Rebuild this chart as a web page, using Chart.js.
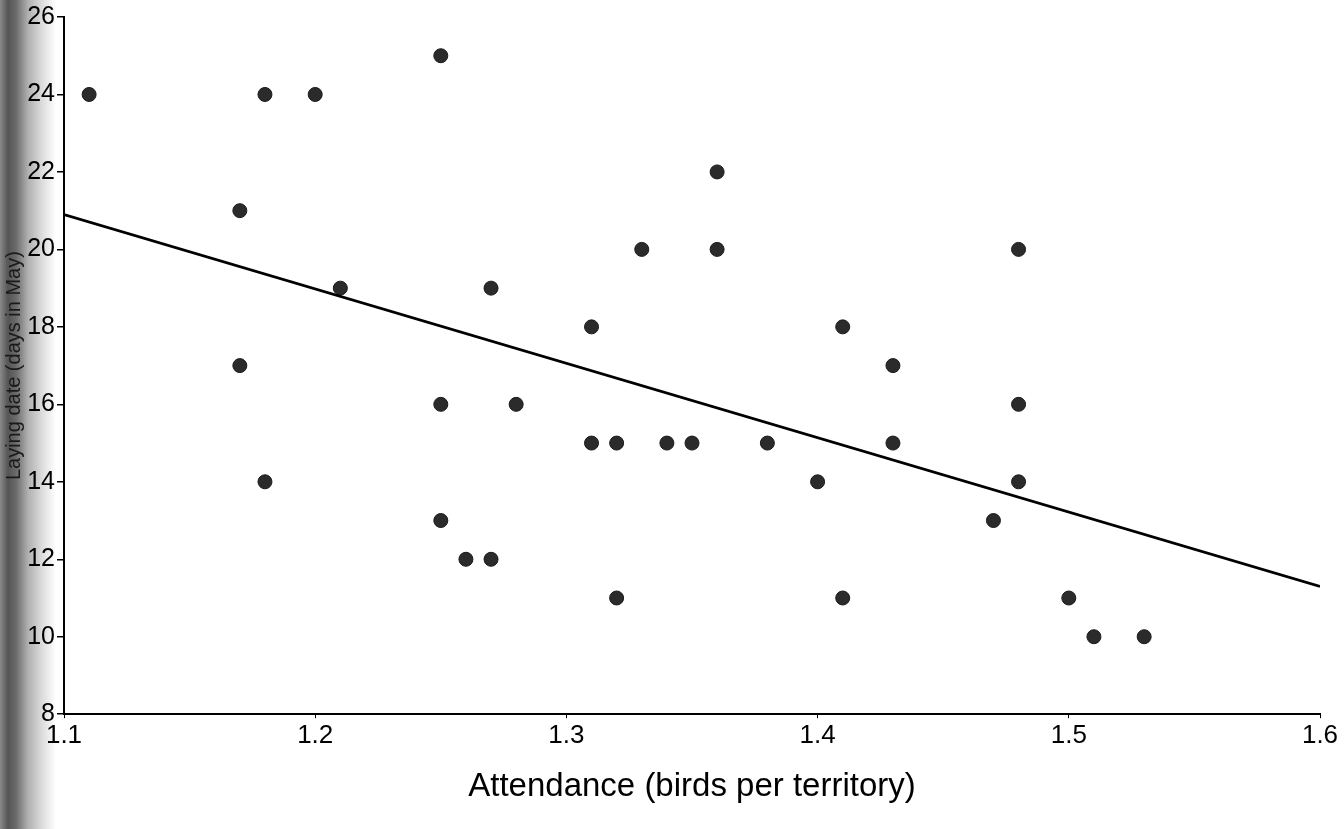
<!DOCTYPE html>
<html>
<head>
<meta charset="utf-8">
<script src="https://cdn.jsdelivr.net/npm/chart.js@4/dist/chart.umd.min.js"></script>
<style>
html,body{margin:0;padding:0;}
body{width:1344px;height:829px;
	background:linear-gradient(to right,#8a8a8a 0px,#555 8px,#6a6a6a 16px,#b0b0b0 28px,#dcdcdc 42px,#fff 56px,#fff 100%);}
#wrap{position:relative;width:1344px;height:829px;}
canvas{display:block;}
</style>
</head>
<body>
<div id="wrap"><canvas id="scatterChart" width="1344" height="829"></canvas></div>
<script>
// attendance (birds per territory)
var attendance = [1.11,1.17,1.17,1.18,1.18,1.20,1.21,1.25,1.25,1.25,1.26,1.27,1.27,1.28,
	1.31,1.31,1.32,1.32,1.33,1.34,1.35,1.36,1.36,1.38,1.40,1.41,1.41,1.43,1.43,
	1.47,1.48,1.48,1.48,1.50,1.51,1.53];
var dayValues = [24,21,17,24,14,24,19,25,16,13,12,12,19,16,
	18,15,15,11,20,15,15,22,20,15,14,18,11,17,15,
	13,20,16,14,11,10,10];

// fitted line
var fitX = [1.1,1.6];
var fitY = [20.9,11.3];

var yTicks = [8,10,12,14,16,18,20,22,24,26];
var xTicks = [1.1,1.2,1.3,1.4,1.5,1.6];

var xTitle = "Attendance (birds per territory)";
var yTitle = "Laying date (days in May)";

function toPoints(xs, ys){
	var pts = [];
	for (var i=0;i<xs.length;i++){
		pts.push({x: xs[i], y: ys[i]});
	}
	return pts;
}

var chart = new Chart(document.getElementById("scatterChart"), {
	type: 'scatter',
	data: {
		datasets: [{
			label: 'points',
			data: toPoints(attendance, dayValues),
			backgroundColor: '#2b2b2b',
			borderColor: '#1a1a1a',
			borderWidth: 1,
			pointRadius: 7,
			order: 2
		},{
			type: 'line',
			label: 'fit',
			data: toPoints(fitX, fitY),
			borderColor: '#000',
			borderWidth: 2.8,
			pointRadius: 0,
			fill: false,
			order: 1
		}]
	},
	options: {
		responsive: false,
		animation: false,
		devicePixelRatio: 1,
		layout: {padding: {top: 15, right: 24, bottom: 22, left: 0}},
		plugins: {legend: {display: false}, tooltip: {enabled: false}},
		scales: {
			x: {
				type: 'linear',
				min: 1.1, max: 1.6,
				afterBuildTicks: function(axis){
					axis.ticks = xTicks.map(function(v){ return {value: v}; });
				},
				border: {display: true, color: '#000', width: 2},
				grid: {display: true, drawOnChartArea: false, drawTicks: true, tickLength: 4, color: '#000', lineWidth: 1},
				ticks: {
					color: '#000', padding: 2,
					font: {family: 'Liberation Sans, Arial, sans-serif', size: 26},
					callback: function(v){ return Number(v).toFixed(1); }
				},
				title: {
					display: true, text: xTitle, color: '#000',
					font: {family: 'Liberation Sans, Arial, sans-serif', size: 33},
					padding: {top: 14, bottom: 0}
				}
			},
			y: {
				type: 'linear',
				min: 8, max: 26,
				afterBuildTicks: function(axis){
					axis.ticks = yTicks.map(function(v){ return {value: v}; });
				},
				afterFit: function(axis){ axis.width = 64; },
				border: {display: true, color: '#000', width: 2},
				grid: {display: true, drawOnChartArea: false, drawTicks: true, tickLength: 7, color: '#000', lineWidth: 1.5},
				ticks: {
					color: '#000', padding: 2,
					font: {family: 'Liberation Sans Narrow, Liberation Sans, Arial, sans-serif', size: 25}
				},
				title: {
					display: true, text: yTitle, color: '#1a1a1a',
					font: {family: 'Liberation Sans Narrow, Liberation Sans, Arial, sans-serif', size: 20},
					padding: {top: 2, bottom: 0}
				}
			}
		}
	}
});
</script>
</body>
</html>
